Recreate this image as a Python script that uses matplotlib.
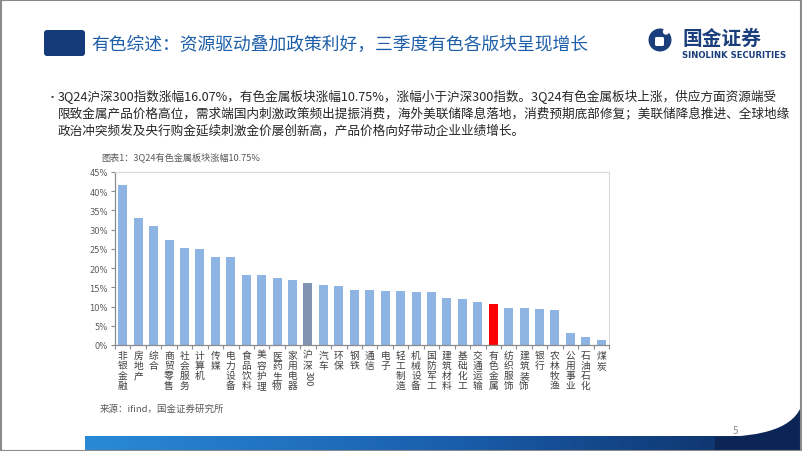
import numpy as np
import matplotlib
matplotlib.use("Agg")
import matplotlib.pyplot as plt
from matplotlib.patches import Rectangle, FancyBboxPatch, PathPatch, Circle
from matplotlib.path import Path
from matplotlib.colors import LinearSegmentedColormap

plt.rcParams['font.family'] = ['Noto Sans CJK SC', 'DejaVu Sans']

# ---------------- data ----------------
categories = ["非银金融", "房地产", "综合", "商贸零售", "社会服务", "计算机", "传媒", "电力设备",
              "食品饮料", "美容护理", "医药生物", "家用电器", "沪深300", "汽车", "环保", "钢铁",
              "通信", "电子", "轻工制造", "机械设备", "国防军工", "建筑材料", "基础化工", "交通运输",
              "有色金属", "纺织服饰", "建筑装饰", "银行", "农林牧渔", "公用事业", "石油石化", "煤炭"]
values = [41.6, 33.0, 31.0, 27.4, 25.3, 25.1, 23.0, 23.0,
          18.2, 18.2, 17.5, 16.8, 16.07, 15.7, 15.4, 14.3,
          14.2, 14.0, 14.0, 13.8, 13.8, 12.1, 11.9, 11.2,
          10.75, 9.7, 9.6, 9.3, 9.1, 3.0, 2.0, 1.3]
yticks = [0, 5, 10, 15, 20, 25, 30, 35, 40, 45]

title = "有色综述：资源驱动叠加政策利好，三季度有色各版块呈现增长"
body_lines = [
    "3Q24沪深300指数涨幅16.07%，有色金属板块涨幅10.75%，涨幅小于沪深300指数。3Q24有色金属板块上涨，供应方面资源端受",
    "限致金属产品价格高位，需求端国内刺激政策频出提振消费，海外美联储降息落地，消费预期底部修复；美联储降息推进、全球地缘",
    "政治冲突频发及央行购金延续刺激金价屡创新高，产品价格向好带动企业业绩增长。",
]
caption = "图表1：3Q24有色金属板块涨幅10.75%"
source = "来源：ifind，国金证券研究所"

W, H = 802, 452
fig = plt.figure(figsize=(W / 100, H / 100), dpi=100)
fig.patch.set_facecolor("white")

# ---------------- overlay (pixel coords) ----------------
ov = fig.add_axes([0, 0, 1, 1])
ov.set_xlim(0, W)
ov.set_ylim(H, 0)
ov.axis("off")

# title square
ov.add_patch(FancyBboxPatch((44, 31), 41, 26, boxstyle="round,pad=0,rounding_size=3",
                            facecolor="#143a7a", edgecolor="none"))
ov.text(91, 44.5, title, fontsize=12.8, color="#1d5ea9", va="center", ha="left")

# logo
ov.add_patch(Circle((660, 41), 11.5, facecolor="#1b3f7c", edgecolor="none"))
ov.add_patch(FancyBboxPatch((655, 38), 9, 9, boxstyle="round,pad=0,rounding_size=1.5",
                            facecolor="white", edgecolor="none"))
ov.add_patch(Circle((666, 32.5), 3.2, facecolor="white", edgecolor="none"))
ov.text(682, 39, "国金证券", fontsize=14.2, color="#1b3f7c", fontweight="bold", va="center", ha="left")
ov.text(682, 55, "SINOLINK SECURITIES", fontsize=6.1, color="#1b3f7c", fontweight="bold",
        va="center", ha="left", family=["DejaVu Sans"])

# body text
ov.text(47, 98, "•", fontsize=8, color="#333333", va="center", ha="left")
for k, line in enumerate(body_lines):
    ov.text(58, 97 + 17 * k, line, fontsize=9.1, color="#262626", va="center", ha="left")

# caption and source
ov.text(101, 157, caption, fontsize=6.6, color="#595959", va="center", ha="left")
ov.text(100, 409, source, fontsize=6.8, color="#595959", va="center", ha="left")

# page number
ov.text(735, 431, "5", fontsize=7, color="#8c8c8c", va="center", ha="center")

# bottom gradient band
grad = np.linspace(0, 1, 256).reshape(1, -1)
cmap = LinearSegmentedColormap.from_list("band", ["#2a8ad6", "#1a5fae", "#0c2a5e"])
ov.imshow(grad, extent=[85, W, H, 437.5], aspect="auto", cmap=cmap, zorder=1)
verts = [(715, 438), (765, 438), (795, 428), (802, 405), (802, 452), (715, 452), (715, 438)]
codes = [Path.MOVETO, Path.CURVE4, Path.CURVE4, Path.CURVE4, Path.LINETO, Path.LINETO, Path.CLOSEPOLY]
ov.add_patch(PathPatch(Path(verts, codes), facecolor="#0b2556", edgecolor="none", zorder=2))
ov.set_xlim(0, W)
ov.set_ylim(H, 0)

# slide frame
ov.add_patch(Rectangle((0.5, 0.5), W - 1.5, H - 1, facecolor="none", edgecolor="#8a8a8a",
                       lw=1.5, zorder=5))

# ---------------- chart ----------------
left, right, top, bottom = 115, 609, 173, 346
ax = fig.add_axes([left / W, 1 - bottom / H, (right - left) / W, (bottom - top) / H])
x = np.arange(len(categories))
colors = []
for c in categories:
    if c == "有色金属":
        colors.append("#ff0000")
    elif c == "沪深300":
        colors.append("#8093b0")
    else:
        colors.append("#8db4e3")
ax.bar(x, values, width=0.58, color=colors, zorder=2)
ax.set_xlim(-0.5, len(categories) - 0.5)
ax.set_ylim(0, 45)
ax.set_yticks(yticks)
ax.set_yticklabels([f"{v}%" for v in yticks], fontsize=6, color="#595959",
                   family=["DejaVu Sans"])
ax.tick_params(axis="y", direction="out", length=3, width=0.8, color="#8c8c8c", pad=2)
ax.set_xticks([])
ax.set_xticks(np.arange(-0.5, len(categories), 1.0), minor=True)
ax.tick_params(axis="x", which="minor", direction="out", length=3, width=0.8, color="#8c8c8c")
ax.tick_params(axis="x", which="major", length=0)
for s in ["top", "right"]:
    ax.spines[s].set_color("#d9d9d9")
    ax.spines[s].set_linewidth(0.8)
for s in ["left", "bottom"]:
    ax.spines[s].set_color("#8c8c8c")
    ax.spines[s].set_linewidth(0.9)

for i, c in enumerate(categories):
    if c == "沪深300":
        ax.annotate("沪\n深", xy=(i, 0), xycoords=("data", "axes fraction"), xytext=(0, -3.5),
                    textcoords="offset points", ha="center", va="top", fontsize=7,
                    color="#404040", linespacing=1.0)
        ax.annotate("300", xy=(i, 0), xycoords=("data", "axes fraction"), xytext=(0, -18),
                    textcoords="offset points", ha="center", va="top", fontsize=6.5,
                    color="#404040", rotation=-90)
    else:
        ax.annotate("\n".join(c), xy=(i, 0), xycoords=("data", "axes fraction"), xytext=(0, -3.5),
                    textcoords="offset points", ha="center", va="top", fontsize=7,
                    color="#404040", linespacing=1.0)

fig.savefig("out.png", dpi=100)
